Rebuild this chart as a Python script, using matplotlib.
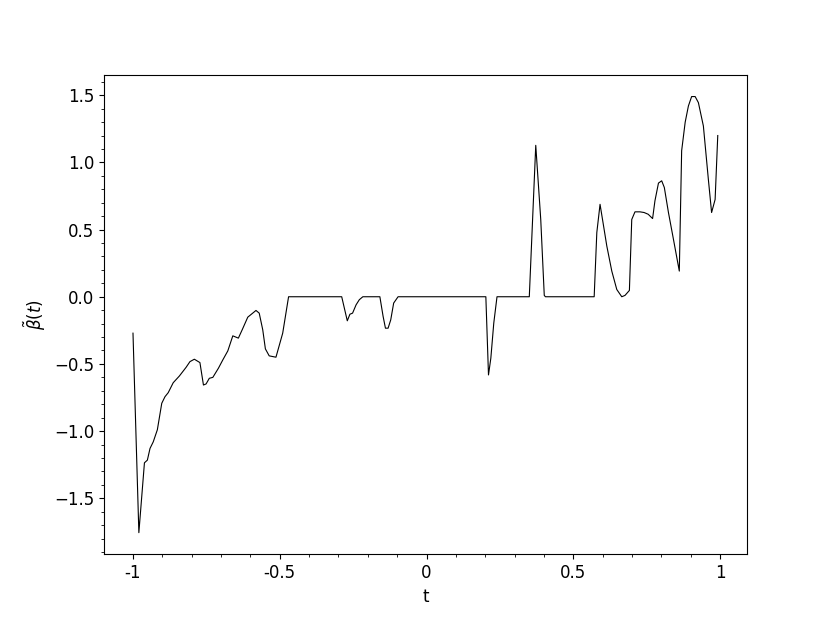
import numpy as np
import matplotlib
matplotlib.use("Agg")
import matplotlib.pyplot as plt
from matplotlib.ticker import AutoMinorLocator, FixedLocator, FixedFormatter

# values
t = [-1.000, -0.980, -0.961, -0.951, -0.942, -0.931, -0.917, -0.902, -0.891, -0.880,
     -0.863, -0.842, -0.819, -0.806, -0.791, -0.772, -0.760, -0.751, -0.740, -0.728,
     -0.709, -0.694, -0.677, -0.660, -0.641, -0.627, -0.609, -0.581, -0.570, -0.558,
     -0.549, -0.536, -0.513, -0.490, -0.470, -0.289, -0.270, -0.261, -0.252, -0.240,
     -0.229, -0.217, -0.159, -0.148, -0.140, -0.131, -0.122, -0.112, -0.097, 0.202,
     0.211, 0.219, 0.229, 0.240, 0.350, 0.372, 0.389, 0.401, 0.405, 0.571,
     0.580, 0.591, 0.603, 0.614, 0.631, 0.648, 0.665, 0.676, 0.691, 0.699,
     0.710, 0.727, 0.741, 0.755, 0.770, 0.778, 0.790, 0.801, 0.810, 0.824,
     0.841, 0.861, 0.869, 0.881, 0.892, 0.903, 0.915, 0.926, 0.943, 0.960,
     0.971, 0.983, 0.992]
beta = [-0.271, -1.756, -1.236, -1.216, -1.129, -1.080, -0.990, -0.793, -0.744, -0.714,
        -0.640, -0.590, -0.525, -0.483, -0.465, -0.490, -0.657, -0.649, -0.607, -0.600,
        -0.532, -0.470, -0.403, -0.291, -0.308, -0.241, -0.152, -0.102, -0.122, -0.246,
        -0.388, -0.440, -0.450, -0.271, 0.0, 0.0, -0.179, -0.130, -0.122, -0.060,
        -0.022, 0.0, 0.0, -0.146, -0.234, -0.234, -0.172, -0.047, 0.0, 0.0,
        -0.582, -0.457, -0.196, 0.0, 0.0, 1.127, 0.575, 0.010, 0.0, 0.0,
        0.478, 0.688, 0.527, 0.378, 0.191, 0.054, 0.0, 0.010, 0.047, 0.575,
        0.632, 0.632, 0.627, 0.614, 0.582, 0.714, 0.846, 0.863, 0.813, 0.627,
        0.428, 0.191, 1.087, 1.299, 1.420, 1.490, 1.490, 1.445, 1.271, 0.873,
        0.627, 0.724, 1.200]

xticks = [-1, -0.5, 0, 0.5, 1]
xticklabels = ["-1", "-0.5", "0", "0.5", "1"]

plt.rcParams["font.size"] = 12

fig, ax = plt.subplots(figsize=(8.3, 6.23), dpi=100)
ax.plot(t, beta, color="black", linewidth=0.8)

ax.xaxis.set_major_locator(FixedLocator(xticks))
ax.xaxis.set_major_formatter(FixedFormatter(xticklabels))
ax.xaxis.set_minor_locator(AutoMinorLocator(5))
ax.yaxis.set_minor_locator(AutoMinorLocator(5))

ax.set_xlabel("t")
ax.set_ylabel(r"$\tilde{\beta}(t)$")

fig.savefig("out.png", dpi=100)
